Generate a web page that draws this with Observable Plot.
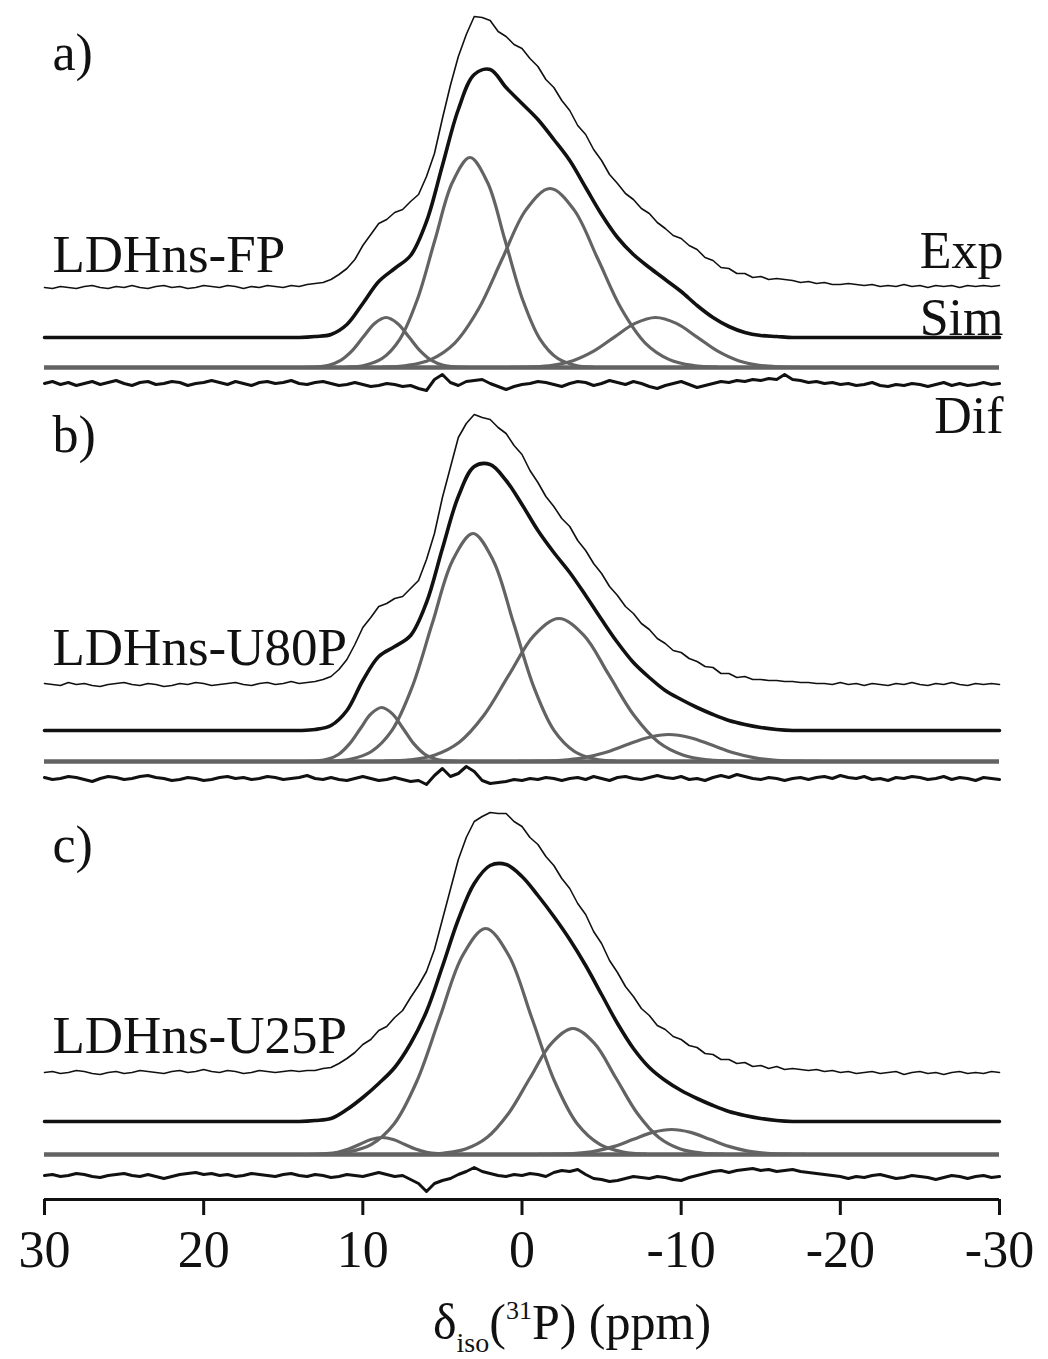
<!DOCTYPE html>
<html><head><meta charset="utf-8">
<script src="https://cdn.jsdelivr.net/npm/d3@7"></script>
<script src="https://cdn.jsdelivr.net/npm/@observablehq/plot@0.6"></script>
<style>
html,body{margin:0;padding:0;background:#fff;}
#wrap{position:relative;width:1048px;height:1359px;font-family:"Liberation Serif","Times New Roman",serif;color:#111;}
#title{position:absolute;left:433px;top:1297px;font-size:50px;line-height:50px;white-space:nowrap;}
#title .sub{font-size:28px;position:relative;top:13px;}
#title .sup{font-size:26px;position:relative;top:-20px;}
</style></head><body>
<div id="wrap"><div id="chart"></div><div id="title">δ<span class="sub">iso</span>(<span class="sup">31</span>P) (ppm)</div></div>
<script>
// ---------- data ----------
const xTicks = [30, 20, 10, 0, -10, -20, -30];
const panelLetters = ["a)", "b)", "c)"];
const sampleNames = ["LDHns-FP", "LDHns-U80P", "LDHns-U25P"];
const traceNames = ["Exp", "Sim", "Dif"];

// sampling grid of the experimental & difference spectra (ppm)
const expPpm = [30,29.5,29,28.5,28,27.5,27,26.5,26,25.5,25,24.5,24,23.5,23,22.5,22,21.5,21,20.5,
 20,19.5,19,18.5,18,17.5,17,16.5,16,15.5,15,14.5,14,13.5,13,12.5,12,11.5,11,10.5,
 10,9.5,9,8.5,8,7.5,7,6.5,6,5.5,5,4.5,4,3.5,3,2.5,2,1.5,1,0.5,
 0,-0.5,-1,-1.5,-2,-2.5,-3,-3.5,-4,-4.5,-5,-5.5,-6,-6.5,-7,-7.5,-8,-8.5,-9,-9.5,
 -10,-10.5,-11,-11.5,-12,-12.5,-13,-13.5,-14,-14.5,-15,-15.5,-16,-16.5,-17,-17.5,-18,-18.5,-19,-19.5,
 -20,-20.5,-21,-21.5,-22,-22.5,-23,-23.5,-24,-24.5,-25,-25.5,-26,-26.5,-27,-27.5,-28,-28.5,-29,-29.5,
 -30];

// Experimental spectra (a.u.)
const expA = [0,-1,1,0,-1,1,2,0,-1,1,0,2,0,-1,1,2,0,1,-1,0,
 2,1,0,2,1,-1,1,0,2,1,0,2,1,3,4,5,8,13,19,28,
 42,53,64,68,75,78,86,93,111,134,169,202,231,253,271,270,267,256,251,243,
 239,229,221,208,200,187,177,162,153,138,127,113,104,94,88,79,74,65,59,52,
 49,42,38,30,27,20,19,14,14,10,11,8,9,8,7,5,6,4,5,3,
 3,4,3,2,3,1,2,1,3,1,2,0,2,1,2,0,2,1,2,1,
 2];
const expB = [1,0,-1,2,0,1,-1,-2,0,1,2,0,-1,1,0,-2,-1,1,0,2,
 1,-1,0,1,2,0,-1,1,2,0,1,3,1,2,3,5,8,15,25,40,
 57,67,78,81,86,88,96,104,125,151,187,217,247,261,270,267,265,257,251,239,
 230,214,202,188,178,166,158,144,134,121,111,98,89,78,71,61,55,46,41,34,
 32,26,23,18,17,11,11,7,8,5,5,4,4,3,3,2,2,1,1,0,
 2,0,1,-1,1,0,-1,1,0,2,0,-1,1,0,2,0,-1,1,0,1,
 0];
const expC = [0,1,-1,0,2,1,-1,-2,0,1,-1,0,2,1,0,-1,1,2,0,1,
 3,1,0,2,1,-1,0,2,1,0,1,2,1,2,2,4,5,9,14,20,
 28,33,42,46,55,62,75,87,101,123,153,183,213,235,251,256,260,259,259,251,
 246,235,228,216,207,194,184,169,158,141,129,112,100,86,76,64,57,47,43,36,
 33,27,25,19,18,13,13,9,10,6,7,4,6,3,4,3,2,3,1,2,
 0,1,-1,0,1,-1,0,1,-2,0,1,-1,0,-2,0,1,-1,0,-1,1,
 0];

// Difference spectra (a.u.)
const difA = [0,2,-1,1,-2,0,2,-1,1,3,0,-2,1,2,-1,0,2,1,-2,0,
 1,3,1,-1,2,0,-2,1,2,0,1,3,0,-1,1,2,0,-2,-1,1,
 -1,-3,-2,0,-1,-3,-2,-5,-7,4,9,1,-2,2,3,4,0,-3,-6,-3,
 -1,0,2,1,-1,-3,0,2,1,-2,0,3,1,-1,2,0,-3,-5,-2,0,
 2,-1,-4,-2,0,2,1,3,2,4,3,5,4,9,4,3,1,2,0,1,
 -1,0,-2,-1,1,-2,-3,-1,-2,0,-1,-3,-1,1,-2,0,-2,-1,1,-1,
 0];
const difB = [1,-1,0,2,1,-1,-3,0,2,1,-1,0,2,3,1,0,-2,-1,1,0,
 -2,-1,1,2,0,1,-1,0,2,1,-1,0,1,3,0,-1,1,-1,-2,0,
 2,0,-2,-1,1,-1,-3,-2,-6,3,10,2,5,12,7,-2,-5,-4,-3,-1,
 -2,0,-1,1,0,-2,0,1,-1,2,0,-2,1,2,0,-1,1,3,1,0,
 2,-1,0,-2,1,3,1,4,2,0,-1,1,0,-2,0,1,-1,1,2,0,
 3,1,0,2,-1,0,-2,1,0,2,1,-1,0,2,-1,1,0,-2,1,0,
 -1];
const difC = [0,1,-1,0,2,1,-1,-2,0,1,2,0,-1,1,-1,-3,-1,1,2,3,
 1,2,0,1,-1,0,2,1,0,-1,1,2,0,-1,1,0,-2,-1,1,0,
 -1,1,3,1,-1,0,-4,-8,-16,-8,-5,-3,1,4,8,4,2,0,-1,1,
 0,2,1,-1,3,5,4,6,1,-3,-4,-6,-5,-3,-1,-2,-3,-1,-2,-4,
 -5,-2,0,2,4,5,3,5,6,7,5,6,4,5,6,4,3,2,1,0,
 -1,-3,-1,-2,0,1,-1,-3,-2,0,-1,-2,-4,-2,0,-1,-3,-1,0,-2,
 -1];

// Simulated (fitted) spectra (a.u.)
const simPpm = [30,16,15,14,13,12,11,10,9,8,7,6,5,4,3,2,1,0,-1,-2,-3,-4,-5,-6,-7,-8,-9,-10,-11,-12,-13,-14,-15,-16,-17,-18,-30];
const simA = [0,0,0,0,1,3,13,34,56,69,82,116,172,228,263,268,250,234,218,198,177,150,123,100,83,70,58,46,32,20,11,5,2,1,0,0,0];
const simB = [0,0,0,0,1,5,20,50,74,84,95,128,182,234,264,266,250,226,200,178,158,135,111,88,68,53,40,31,23,16,10,6,3,1,0,0,0];
const simC = [0,0,0,0,1,3,12,24,38,54,78,110,155,202,238,256,257,245,226,205,182,156,127,98,73,54,41,31,23,16,10,6,3,1,0,0,0];

// Fit components [ppm, intensity]
const compA1 = [[13.58,0.1],[12.86,0.6],[12.14,2.2],[11.42,6.8],[10.70,16.3],[9.98,30.4],[9.26,44.1],[8.54,50],[7.82,44.1],[7.10,30.4],[6.38,16.3],[5.66,6.8],[4.94,2.2],[4.22,0.6],[3.50,0.1]];
const compA2 = [[10.97,0.4],[9.87,2.3],[8.77,9.2],[7.67,28.4],[6.57,68.3],[5.47,127.5],[4.37,185.2],[3.27,210],[2.17,185.2],[1.07,127.5],[-0.03,68.3],[-1.13,28.4],[-2.23,9.2],[-3.33,2.3],[-4.43,0.4]];
const compA3 = [[8.74,0.4],[7.24,2.0],[5.74,7.9],[4.24,24.2],[2.74,58.2],[1.24,108.7],[-0.26,157.9],[-1.76,179],[-3.26,157.9],[-4.76,108.7],[-6.26,58.2],[-7.76,24.2],[-9.26,7.9],[-10.76,2.0],[-12.26,0.4]];
const compA4 = [[0.7,0.1],[-0.6,0.6],[-1.9,2.2],[-3.2,6.8],[-4.5,16.3],[-5.8,30.4],[-7.1,44.1],[-8.4,50],[-9.7,44.1],[-11.0,30.4],[-12.3,16.3],[-13.6,6.8],[-14.9,2.2],[-16.2,0.6],[-17.5,0.1]];
const compB1 = [[13.54,0.1],[12.86,0.6],[12.19,2.4],[11.51,7.3],[10.84,17.6],[10.16,32.8],[9.49,47.6],[8.81,54],[8.14,47.6],[7.46,32.8],[6.79,17.6],[6.11,7.3],[5.44,2.4],[4.76,0.6],[4.09,0.1]];
const compB2 = [[12.01,0.5],[10.73,2.5],[9.46,10.0],[8.18,30.8],[6.91,74.1],[5.63,138.4],[4.36,201.1],[3.08,228],[1.81,201.1],[0.53,138.4],[-0.75,74.1],[-2.02,30.8],[-3.30,10.0],[-4.57,2.5],[-5.85,0.5]];
const compB3 = [[8.64,0.3],[7.07,1.6],[5.51,6.3],[3.94,19.3],[2.38,46.5],[0.81,86.8],[-0.76,126.1],[-2.32,143],[-3.89,126.1],[-5.45,86.8],[-7.02,46.5],[-8.58,19.3],[-10.15,6.3],[-11.71,1.6],[-13.28,0.3]];
const compB4 = [[0.22,0.1],[-1.13,0.3],[-2.48,1.2],[-3.83,3.7],[-5.18,8.8],[-6.53,16.4],[-7.88,23.8],[-9.23,27],[-10.58,23.8],[-11.93,16.4],[-13.28,8.8],[-14.63,3.7],[-15.98,1.2],[-17.33,0.3],[-18.68,0.1]];
const compC1 = [[13.69,0],[12.99,0.2],[12.29,0.8],[11.59,2.3],[10.89,5.5],[10.19,10.3],[9.49,15.0],[8.79,17],[8.09,15.0],[7.39,10.3],[6.69,5.5],[5.99,2.3],[5.29,0.8],[4.59,0.2],[3.89,0]];
const compC2 = [[12.36,0.5],[10.92,2.5],[9.48,9.9],[8.04,30.5],[6.60,73.5],[5.16,137.2],[3.72,199.3],[2.28,226],[0.84,199.3],[-0.60,137.2],[-2.04,73.5],[-3.48,30.5],[-4.92,9.9],[-6.36,2.5],[-7.80,0.5]];
const compC3 = [[6.25,0.3],[4.9,1.4],[3.55,5.5],[2.2,17.0],[0.85,41.0],[-0.5,76.5],[-1.85,111.1],[-3.2,126],[-4.55,111.1],[-5.9,76.5],[-7.25,41.0],[-8.6,17.0],[-9.95,5.5],[-11.3,1.4],[-12.65,0.3]];
const compC4 = [[-1.0,0.1],[-2.2,0.3],[-3.4,1.1],[-4.6,3.4],[-5.8,8.1],[-7.0,15.2],[-8.2,22.1],[-9.4,25],[-10.6,22.1],[-11.8,15.2],[-13.0,8.1],[-14.2,3.4],[-15.4,1.1],[-16.6,0.3],[-17.8,0.1]];

// ---------- layout (vertical stacking offsets, a.u.) ----------
const panels = [
  {exp: expA, dif: difA, sim: simA, comps: [compA1, compA2, compA3, compA4],
   oExp: 912, oSim: 862, oComp: 832, oDif: 816, yLetter: 1146, yName: 944},
  {exp: expB, dif: difB, sim: simB, comps: [compB1, compB2, compB3, compB4],
   oExp: 515, oSim: 469, oComp: 438, oDif: 421, yLetter: 764, yName: 551},
  {exp: expC, dif: difC, sim: simC, comps: [compC1, compC2, compC3, compC4],
   oExp: 127, oSim: 78, oComp: 45, oDif: 24, yLetter: 354, yName: 163}
];
const traceLabelY = [948, 881, 783];

const GRAY = "#636363", BLACK = "#111";
const series = (xs, ys) => ys.map((v, i) => ({ppm: xs[i], v}));

const marks = [];
panels.forEach((P, i) => {
  marks.push(Plot.ruleY([0], {y: d => d + P.oComp, x1: () => 30, x2: () => -30, stroke: GRAY, strokeWidth: 4.5}));
  P.comps.forEach(c => marks.push(Plot.line(c, {x: d => d[0], y: d => d[1] + P.oComp, curve: "catmull-rom", stroke: GRAY, strokeWidth: 3.2})));
  marks.push(Plot.line(series(simPpm, P.sim), {x: "ppm", y: d => d.v + P.oSim, curve: "catmull-rom", stroke: BLACK, strokeWidth: 3.6}));
  marks.push(Plot.line(series(expPpm, P.exp), {x: "ppm", y: d => d.v + P.oExp, stroke: BLACK, strokeWidth: 1.6}));
  marks.push(Plot.line(series(expPpm, P.dif), {x: "ppm", y: d => d.v + P.oDif, stroke: BLACK, strokeWidth: 3}));
  marks.push(Plot.text([panelLetters[i]], {x: () => 29.5, y: () => P.yLetter, text: d => d, textAnchor: "start", fontSize: 52, fill: BLACK}));
  marks.push(Plot.text([sampleNames[i]], {x: () => 29.5, y: () => P.yName, text: d => d, textAnchor: "start", fontSize: 53, fill: BLACK}));
});
marks.push(Plot.text(traceNames, {x: () => -30.25, y: (d, i) => traceLabelY[i], text: d => d, textAnchor: "end", fontSize: 52, fill: BLACK}));
marks.push(Plot.ruleY([0], {x1: () => 30, x2: () => -30, stroke: BLACK, strokeWidth: 3}));
marks.push(Plot.axisX({ticks: xTicks, tickFormat: d => String(d), tickSize: 16, tickPadding: 15, fontSize: 52, stroke: BLACK, fill: BLACK, strokeWidth: 3, label: null}));

const chart = Plot.plot({
  width: 1048, height: 1290,
  marginLeft: 44, marginRight: 49, marginTop: 0, marginBottom: 91,
  x: {domain: [30, -30]},
  y: {domain: [0, 1199], axis: null},
  style: {fontFamily: "'Liberation Serif', 'Times New Roman', serif", background: "#fff", color: BLACK, overflow: "visible"},
  marks
});
document.getElementById("chart").appendChild(chart);
</script></body></html>
